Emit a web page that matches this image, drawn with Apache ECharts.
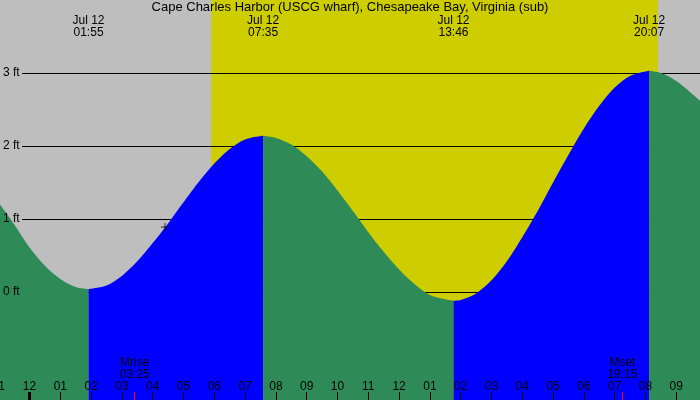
<!DOCTYPE html>
<html>
<head>
<meta charset="utf-8">
<script src="https://cdn.jsdelivr.net/npm/echarts@6/dist/echarts.min.js"></script>
<style>
html,body{margin:0;padding:0;background:#bebebe;}
#main{width:700px;height:400px;}
</style>
</head>
<body>
<div id="main"></div>
<script>
// tide readings (hours from midnight Jul 12, feet)
var readHours = [-0.96, -0.5, 0, 0.5, 1, 1.5,
    2.5, 3, 3.5, 4, 4.5, 5, 5.5, 6, 6.5, 7,
    8, 8.5, 9, 9.5, 10, 10.5, 11, 11.5, 12, 12.5, 13, 13.5,
    14, 14.5, 15, 15.5, 16, 16.5, 17, 17.5, 18, 18.5, 19, 19.5,
    20.5, 21, 21.5, 21.77];
var readFeet = [1.20, 0.93, 0.61, 0.36, 0.18, 0.07,
    0.09, 0.22, 0.42, 0.67, 0.94, 1.23, 1.51, 1.76, 1.96, 2.09,
    2.11, 2.02, 1.86, 1.65, 1.39, 1.11, 0.82, 0.55, 0.31, 0.11, -0.04, -0.10,
    -0.11, -0.02, 0.16, 0.42, 0.75, 1.11, 1.50, 1.88, 2.24, 2.55, 2.80, 2.96,
    3.00, 2.89, 2.72, 2.62];

// highs and lows
var extremeTimes = ['01:55', '07:35', '13:46', '20:07'];
var extremeFeet = [0.04, 2.14, -0.12, 3.03];

var moonTimes = ['03:25', '19:15'];
var moonNames = ['Mrise', 'Mset'];
var sunTimes = ['05:54', '20:24'];
var nowTime = '04:24';
var nowFeet = 0.89;
var dayLabel = 'Jul 12';
var hourTicks = [-1,0,1,2,3,4,5,6,7,8,9,10,11,12,13,14,15,16,17,18,19,20,21];
var feetTicks = [0, 1, 2, 3];

var xMin = -0.958, xMax = 21.77;
var font = 'Liberation Sans, Arial, sans-serif';
var green = '#2e8b57', blue = '#0000ff', yellow = '#cdcd00';

function toHours(t){
    var p = t.split(':');
    return parseInt(p[0]) + parseInt(p[1]) / 60;
}
function toDou(num){
    return num < 10 ? '0' + num : '' + num;
}
function hourLabel(v){
    var h = ((Math.round(v) % 12) + 12) % 12;
    if (h == 0) h = 12;
    return toDou(h);
}

var extremeHours = extremeTimes.map(toHours);
var moonHours = moonTimes.map(toHours);

var points = [];
readHours.forEach(function(h, i){ points.push([h, readFeet[i]]); });
extremeHours.forEach(function(h, i){ points.push([h, extremeFeet[i]]); });
points.sort(function(a, b){ return a[0] - b[0]; });

var cuts = [points[0][0]].concat(extremeHours).concat([points[points.length-1][0]]);
var series = [];

// daylight
series.push({
    type: 'line', data: [[toHours(sunTimes[0]), 0]], symbol: 'none', silent: true,
    markArea: {
        silent: true, z: 0,
        itemStyle: {color: yellow},
        data: [[{xAxis: toHours(sunTimes[0])}, {xAxis: toHours(sunTimes[1])}]]
    }
});

// falling = green, rising = blue
for (var k = 0; k < cuts.length - 1; k++) {
    var seg = points.filter(function(p){ return p[0] >= cuts[k] - 1e-6 && p[0] <= cuts[k+1] + 1e-6; });
    var rising = seg[seg.length-1][1] > seg[0][1];
    series.push({
        type: 'line', data: seg, smooth: 0.3, symbol: 'none', silent: true, z: 2,
        lineStyle: {width: 0},
        areaStyle: {color: rising ? blue : green, opacity: 1, origin: 'start'}
    });
}

series.push({
    type: 'scatter', data: [[toHours(nowTime), nowFeet]], z: 3, silent: true,
    symbol: 'path://M0,5L10,5M5,0L5,10', symbolSize: 8,
    itemStyle: {color: 'transparent', borderColor: '#000', borderWidth: 1}
});

var noLine = {show: false, onZero: false};
var hourPx = 700 / (xMax - xMin);
var option = {
    animation: false,
    backgroundColor: '#bebebe',
    textStyle: {fontFamily: font},
    title: {
        text: 'Cape Charles Harbor (USCG wharf), Chesapeake Bay, Virginia (sub)',
        left: 'center', top: 1, padding: 0,
        textStyle: {fontSize: 13, fontWeight: 'normal', color: '#000', fontFamily: font}
    },
    grid: [
        {left: 0, right: 0, top: 0, bottom: 0, outerBoundsMode: 'none'},
        {left: 22, right: 0, top: 0, height: 365, outerBoundsMode: 'none'},
        // hour scale starting at 23:00 the day before
        {left: (-1 - xMin) * hourPx, right: 0, top: 0, bottom: 0, outerBoundsMode: 'none'}
    ],
    xAxis: [
        {gridIndex: 0, type: 'value', min: xMin, max: xMax, show: false},
        {gridIndex: 2, type: 'value', min: -1, max: xMax, position: 'bottom', z: 5,
            axisLine: noLine, splitLine: {show: false},
            axisTick: {inside: true, length: 8, lineStyle: {color: '#000'}, customValues: hourTicks},
            axisLabel: {inside: true, margin: 7, customValues: hourTicks, formatter: hourLabel, color: '#000', fontSize: 12, fontFamily: font}},
        {gridIndex: 0, type: 'value', min: xMin, max: xMax, position: 'bottom', z: 6,
            axisLine: noLine, splitLine: {show: false}, axisLabel: {show: false},
            axisTick: {inside: true, length: 8, lineStyle: {color: '#000', width: 3}, customValues: [0]}},
        {gridIndex: 0, type: 'value', min: xMin, max: xMax, position: 'bottom', z: 6,
            axisLine: noLine, splitLine: {show: false},
            axisTick: {inside: true, length: 8, lineStyle: {color: '#ff0000'}, customValues: moonHours},
            axisLabel: {inside: true, margin: 19, customValues: moonHours, color: '#000', fontSize: 12, lineHeight: 12, fontFamily: font,
                formatter: function(v){
                    var i = moonHours.indexOf(v);
                    return moonNames[i] + '\n' + moonTimes[i];
                }}},
        {gridIndex: 0, type: 'value', min: xMin, max: xMax, position: 'top', z: 6,
            axisLine: noLine, splitLine: {show: false}, axisTick: {show: false},
            axisLabel: {inside: true, margin: 15, customValues: extremeHours, color: '#000', fontSize: 12, lineHeight: 12, fontFamily: font,
                formatter: function(v){
                    var i = extremeHours.indexOf(v);
                    return dayLabel + '\n' + extremeTimes[i];
                }}},
        {gridIndex: 1, type: 'value', show: false}
    ],
    yAxis: [
        {gridIndex: 0, type: 'value', min: -1.479, max: 4, show: false},
        {gridIndex: 1, type: 'value', position: 'left', min: -1, max: 4, interval: 1, z: 1,
            axisLine: noLine, axisTick: {show: false}, axisLabel: {show: false},
            splitLine: {show: true, showMinLine: false, showMaxLine: false, lineStyle: {color: '#000', width: 1}}},
        {gridIndex: 1, type: 'value', position: 'left', min: -1, max: 4, interval: 1, z: 5,
            axisLine: noLine, axisTick: {show: false}, splitLine: {show: false},
            axisLabel: {align: 'left', margin: 19, color: '#000', fontSize: 12, fontFamily: font,
                formatter: function(v){ return feetTicks.indexOf(v) >= 0 ? v + ' ft' : ''; }}},
        {gridIndex: 2, type: 'value', show: false}
    ],
    series: series
};

var myChart = echarts.init(document.getElementById('main'));
myChart.setOption(option);
</script>
</body>
</html>
